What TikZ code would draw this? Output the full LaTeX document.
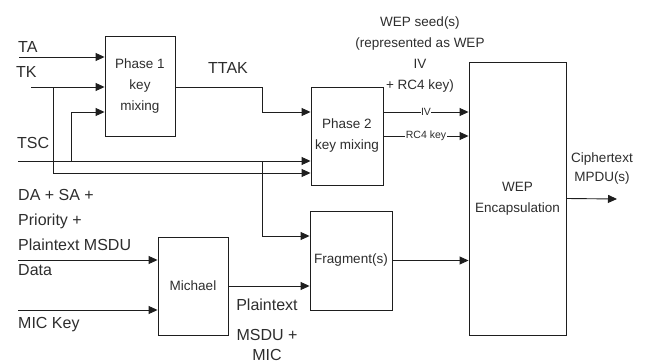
\documentclass[tikz,border=0pt]{standalone}
\usepackage{fontspec}
\setmainfont{Liberation Sans}
\usepackage{tikz}
\usetikzlibrary{shapes,arrows,arrows.meta,positioning,calc}
\definecolor{tkipline}{RGB}{30,30,30}
\definecolor{tkiptext}{RGB}{45,45,45}

\tikzset{
  blockbox/.style={draw=tkipline, line width=0.9pt, align=center, text=tkiptext,
    font=\fontsize{13.5}{21}\selectfont, inner sep=1pt},
  inlabel/.style={text=tkiptext, font=\fontsize{16}{25}\selectfont, inner sep=0pt,
    anchor=west, align=left},
  smalllabel/.style={text=tkiptext, font=\fontsize{13.5}{21}\selectfont, inner sep=0pt, align=center},
  wire/.style={draw=tkipline, line width=0.9pt}
}

\begin{document}
\begin{tikzpicture}[x=1pt, y=-1pt, >={Triangle[length=9pt,width=8pt]}]
  \useasboundingbox (0,0) rectangle (649,364);

  % blocks
  \node[blockbox, minimum width=70pt, minimum height=100pt] (phaseone) at (140,86) {Phase 1\\key\\mixing};
  \node[blockbox, minimum width=72pt, minimum height=98pt] (phasetwo) at (347,136) {Phase 2\\key mixing};
  \node[blockbox, minimum width=97pt, minimum height=273pt] (wep) at (517.5,198.5) {WEP\\Encapsulation};
  \node[blockbox, minimum width=82pt, minimum height=99pt] (frag) at (351,260.5) {Fragment(s)};
  \node[blockbox, minimum width=70pt, minimum height=98pt] (michael) at (193,286) {Michael};

  % free ends and bends
  \coordinate (ta) at (19,57);
  \coordinate (tk) at (31,87);
  \coordinate (tksplit) at (53,87);
  \coordinate (tsc) at (18,161);
  \coordinate (tscup) at (71,161);
  \coordinate (tscdown) at (262,161);
  \coordinate (ttakbend) at (262,112);
  \coordinate (data) at (18,260);
  \coordinate (mickey) at (18,310);
  \coordinate (out) at (617,199);

  % labels
  \node[inlabel, text height=11.5pt, text depth=0pt] (talbl) at (18,47) {TA};
  \node[inlabel, text height=11.5pt, text depth=0pt] (tklbl) at (16,72) {TK};
  \node[inlabel, text height=11.5pt, text depth=0pt] (tsclbl) at (17,143) {TSC};
  \node[inlabel] (datalbl) at (18,232) {DA + SA +\\Priority +\\Plaintext MSDU\\Data};
  \node[inlabel, text height=11.5pt, text depth=0pt] (miclbl) at (18,323) {MIC Key};
  \node[inlabel, anchor=center] (ttaklbl) at (228,68) {TTAK};
  \node[smalllabel] (seedlbl) at (420,55) {WEP seed(s)\\(represented as WEP\\IV\\+ RC4 key)};
  \node[smalllabel, font=\fontsize{13.5}{19}\selectfont] (cipherlbl) at (602,169) {Ciphertext\\MPDU(s)};
  \node[inlabel, anchor=center, align=center, font=\fontsize{16}{20}\selectfont] (msdulbl) at (267,330) {Plaintext\\[10pt]MSDU +\\MIC};

  % connectors
  \draw[wire, ->] (ta) -- (ta -| phaseone.west);
  \draw[wire, ->] (tk) -- (tk -| phaseone.west);
  \draw[wire, ->] (tscup) |- ([yshift=-26pt]phaseone.west);
  \draw[wire, ->] (tsc) -- (tsc -| phasetwo.west);
  \draw[wire, ->] (tksplit) |- ([yshift=-37pt]phasetwo.west);
  \draw[wire, ->] (tk -| phaseone.east) -| (ttakbend) -- (ttakbend -| phasetwo.west);
  \draw[wire, ->] (tscdown) |- ([yshift=24.5pt]frag.west);
  \draw[wire, ->] (data) -- (data -| michael.west);
  \draw[wire, ->] (mickey) -- (mickey -| michael.west);
  \draw[wire, ->] (michael.east) -- (michael.east -| frag.west);
  \draw[wire, ->] ([yshift=24pt]phasetwo.east) -- ([yshift=24pt]phasetwo.east -| wep.west)
    node[midway, fill=white, inner sep=0.5pt, text=tkiptext, font=\fontsize{10.5}{12}\selectfont] (ivlbl) {IV};
  \draw[wire, ->] (phasetwo.east) -- (phasetwo.east -| wep.west)
    node[midway, fill=white, inner sep=0.5pt, text=tkiptext, font=\fontsize{10.5}{12}\selectfont] (rclbl) {RC4 key};
  \draw[wire, ->] (frag.east) -- (frag.east -| wep.west);
  \draw[wire, ->] (wep.east) -- (out);
\end{tikzpicture}
\end{document}
